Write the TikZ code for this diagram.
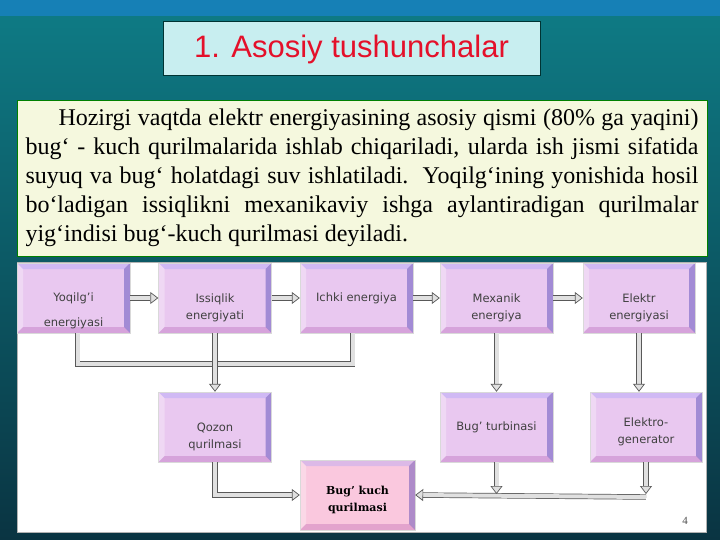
\documentclass[tikz,border=0pt]{standalone}
\usepackage{fontspec}
\setmainfont{Liberation Serif}
\newfontfamily\boxfont{DejaVu Sans}
\newfontfamily\boldbox{DejaVu Serif}
\newfontfamily\titlefont{Liberation Sans}
\usetikzlibrary{arrows.meta, positioning}
\definecolor{bgband}{RGB}{22,128,182}
\definecolor{bgtop}{RGB}{14,122,132}
\definecolor{bgbottom}{RGB}{10,52,66}
\definecolor{titlebg}{RGB}{200,238,240}
\definecolor{titlered}{RGB}{228,16,42}
\definecolor{parabg}{RGB}{245,248,222}
\definecolor{boxface}{RGB}{233,200,240}
\definecolor{pinkface}{RGB}{250,200,222}
\def\bev{6pt}
\def\lift{\rule{0pt}{28pt}}

\begin{document}
\begin{tikzpicture}[x=1pt, y=-1pt]
    \tikzstyle{box}=[rectangle, draw=black!15, fill=boxface, minimum width=113pt, minimum height=70pt, inner sep=2pt, align=center, text=black!75, font=\boxfont\fontsize{11.5}{17}\selectfont,
        path picture={
            \path (path picture bounding box.north west) coordinate (pnw)
                  (path picture bounding box.south east) coordinate (pse);
            \fill[blue!40, opacity=0.3] (pnw) -- (pnw -| pse) -- ([shift={(-\bev,-\bev)}]pnw -| pse) -- ([shift={(\bev,-\bev)}]pnw) -- cycle;
            \fill[white, opacity=0.3] (pnw) -- ([shift={(\bev,-\bev)}]pnw) -- ([shift={(\bev,\bev)}]pnw |- pse) -- (pnw |- pse) -- cycle;
            \fill[blue!60!black, opacity=0.3] (pnw -| pse) -- (pse) -- ([shift={(-\bev,\bev)}]pse) -- ([shift={(-\bev,-\bev)}]pnw -| pse) -- cycle;
            \fill[violet, opacity=0.18] (pnw |- pse) -- ([shift={(\bev,\bev)}]pnw |- pse) -- ([shift={(-\bev,\bev)}]pse) -- (pse) -- cycle;
        }]
    \tikzstyle{pinkbox}=[box, fill=pinkface, minimum width=115pt, text=black, font=\boldbox\bfseries\fontsize{11}{17}\selectfont]
    \tikzstyle{pipe}=[draw=black!65, line width=0.7pt, double=black!12, double distance=4pt]
    \tikzstyle{flow}=[pipe, -{Triangle[length=8pt, width=12pt, fill=black!12, color=black!65, line width=0.7pt]}]

    % Draw the slide background
    \shade[top color=bgtop, bottom color=bgbottom] (0,16) rectangle (720,540);
    \fill[bgband] (0,0) rectangle (720,16);
    \useasboundingbox (0,0) rectangle (720,540);

    % Draw the title and the text
    \node[draw=black!60!teal, line width=1pt, fill=titlebg, minimum width=377pt, minimum height=54pt, text=titlered, font=\titlefont\fontsize{31}{34}\selectfont] (title) at (351.5,49) {1. Asosiy tushunchalar};
    \node[draw=black!50!green, fill=parabg, minimum width=690pt, minimum height=156pt, text width=673pt, inner sep=8pt, align=justify, font=\fontsize{24}{29}\selectfont] (para) at (362,178)
        {\hspace*{33pt}Hozirgi vaqtda elektr energiyasining asosiy qismi (80\% ga yaqini)\linebreak
         bug‘ - kuch qurilmalarida ishlab chiqariladi, ularda ish jismi sifatida\linebreak
         suyuq va bug‘ holatdagi suv ishlatiladi.\ \ Yoqilg‘ining yonishida hosil\linebreak
         bo‘ladigan issiqlikni mexanikaviy ishga aylantiradigan qurilmalar\linebreak
         yig‘indisi bug‘-kuch qurilmasi deyiladi.};

    % Draw the white panel
    \fill[white, draw=black!30] (17,262) rectangle (706,532);

    % Draw the first row
    \node[box] (yoqilgi) at (73.5,298) {\rule{0pt}{34pt}Yoqilg’i\\[8pt]energiyasi};
    \node[box] (issiqlik) at (215,298) {\lift Issiqlik\\energiyati};
    \node[box] (ichki) at (356.5,298) {Ichki energiya};
    \node[box] (mexanik) at (496.5,298) {\lift Mexanik\\energiya};
    \node[box, minimum width=112pt] (elektr) at (639,298) {\lift Elektr\\energiyasi};

    % Draw the second row
    \node[box] (qozon) at (215,427) {\lift Qozon\\qurilmasi};
    \node[box] (turbina) at (496.5,427) {Bug’ turbinasi};
    \node[box, minimum width=112pt] (generator) at (646,427) {\rule{0pt}{18pt}Elektro-\\generator};
    \node[pinkbox] (bugkuch) at (357.5,495) {\rule{0pt}{18pt}Bug’ kuch\\qurilmasi};

    \coordinate (bus) at (215,364);
    \coordinate (bus2) at (500,497);

    % Draw the arrows
    \draw[flow] (yoqilgi) -- (issiqlik);
    \draw[flow] (issiqlik) -- (ichki);
    \draw[flow] (ichki) -- (mexanik);
    \draw[flow] (mexanik) -- (elektr);
    \draw[pipe] ([xshift=4pt]yoqilgi.south) |- (bus) -| ([xshift=-4pt]ichki.south);
    \draw[flow] (issiqlik) -- (qozon);
    \draw[flow] (mexanik) -- (turbina);
    \draw[flow] (elektr.south) -- (elektr.south |- generator.north);
    \draw[flow] (qozon.south) |- (bugkuch.west);
    \draw[flow] (generator.south |- bus2) -- (bugkuch.east);
    \draw[flow] (turbina.south) -- ([yshift=3pt]turbina.south |- bus2);
    \draw[flow] (generator.south) -- ([yshift=3pt]generator.south |- bus2);

    \node[text=black!70, font=\fontsize{11}{12}\selectfont] (page) at (685,521) {4};
\end{tikzpicture}
\end{document}
